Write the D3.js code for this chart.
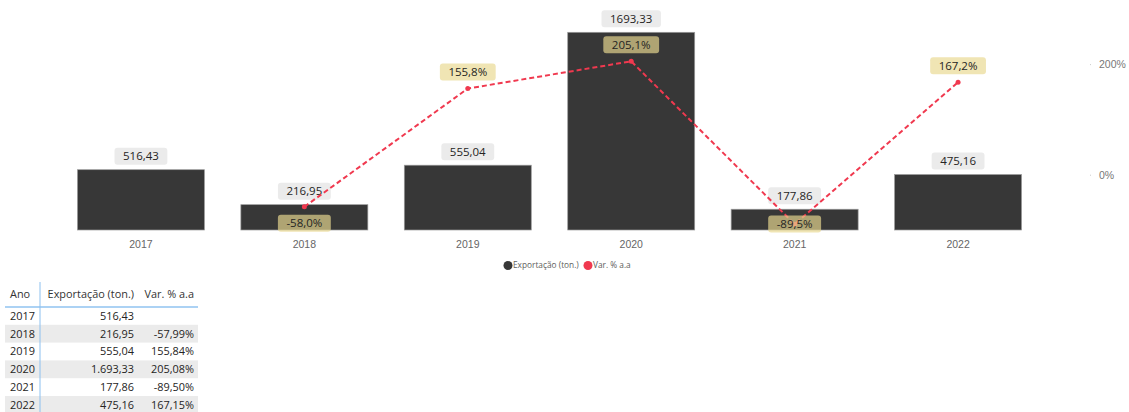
<!DOCTYPE html>
<html>
<head>
<meta charset="utf-8">
<script src="https://cdn.jsdelivr.net/npm/d3@7"></script>
<style>
  html, body { margin: 0; padding: 0; background: #fff; }
  svg { display: block; font-family: "Segoe UI", "Open Sans", "Noto Sans", sans-serif; }
</style>
</head>
<body>
<svg id="chart" width="1129" height="412"></svg>
<script>
// ---- data ----
const anos = ["2017", "2018", "2019", "2020", "2021", "2022"];
const exportacao = [516.43, 216.95, 555.04, 1693.33, 177.86, 475.16];
const variacao = [null, -57.99, 155.84, 205.08, -89.50, 167.15];
const pctTicks = [0, 200];
const seriesNames = ["Exportação (ton.)", "Var. % a.a"];
const tableHeaders = ["Ano", "Exportação (ton.)", "Var. % a.a"];

// ---- formatting ----
const loc = d3.formatLocale({decimal: ",", thousands: ".", grouping: [3], currency: ["R$", ""], minus: "-"});
const fBar = loc.format(".2f");
const fPct1 = v => loc.format(".1f")(v) + "%";
const fTab = loc.format(",.2f");
const fPct2 = v => loc.format(".2f")(v) + "%";

const svg = d3.select("#chart");
const barColor = "#373737";
const lineColor = "#f0394f";

// ---- scales ----
const x = d3.scaleBand().domain(anos).range([41, 1058]).paddingInner(0.223).paddingOuter(0.223);
const y = d3.scaleLinear().domain([0, 1970]).range([230, 0]);
const y2 = d3.scaleLinear().domain([-100, 316]).range([230, 0]);

// ---- right axis ----
const ax2 = svg.append("g").attr("transform", "translate(1090,0)")
  .call(d3.axisRight(y2).tickValues(pctTicks).tickSize(1).tickPadding(8).tickFormat(d => d + "%"));
ax2.select(".domain").remove();
ax2.selectAll(".tick line").attr("stroke", "#ccc");
ax2.selectAll("text").attr("fill", "#777").style("font-size", "10.5px");

// ---- bars ----
svg.append("g").selectAll("rect").data(anos).join("rect")
  .attr("x", d => x(d))
  .attr("y", (d, i) => y(exportacao[i]))
  .attr("width", x.bandwidth())
  .attr("height", (d, i) => y(0) - y(exportacao[i]))
  .attr("fill", barColor)
  .attr("stroke", "#9a9a9a").attr("stroke-width", 0.7);

// ---- x axis ----
const ax = svg.append("g").attr("transform", "translate(0,230)")
  .call(d3.axisBottom(x).tickSize(0).tickPadding(11));
ax.select(".domain").remove();
ax.selectAll("text").attr("fill", "#666").style("font-size", "10.5px");

// ---- label helper ----
function labelBox(g, cx, cy, text, fill, opacity) {
  const grp = g.append("g");
  const t = grp.append("text").attr("x", cx).attr("y", cy).attr("dy", "0.35em")
    .attr("text-anchor", "middle").attr("fill", "#252423").style("font-size", "11.5px").text(text);
  const w = t.node().getComputedTextLength() + 17;
  grp.insert("rect", "text").attr("x", cx - w / 2).attr("y", cy - 8.5).attr("width", w).attr("height", 17)
    .attr("rx", 3).attr("fill", fill).attr("fill-opacity", opacity);
}

// bar labels
const gBarLab = svg.append("g");
anos.forEach((a, i) => {
  const cx = x(a) + x.bandwidth() / 2;
  labelBox(gBarLab, cx, y(exportacao[i]) - 5 - 8.5, fBar(exportacao[i]), "#ebebeb", 1);
});

// ---- line ----
const pts = anos.map((a, i) => ({a, v: variacao[i]})).filter(d => d.v !== null);
const line = d3.line().x(d => x(d.a) + x.bandwidth() / 2).y(d => y2(d.v));
svg.append("path").datum(pts).attr("d", line).attr("fill", "none")
  .attr("stroke", lineColor).attr("stroke-width", 2).attr("stroke-dasharray", "5,3");
svg.append("g").selectAll("circle").data(pts).join("circle")
  .attr("cx", d => x(d.a) + x.bandwidth() / 2).attr("cy", d => y2(d.v)).attr("r", 2.5).attr("fill", lineColor);

// line labels
const gLineLab = svg.append("g");
pts.forEach(d => {
  const cx = x(d.a) + x.bandwidth() / 2;
  const py = y2(d.v);
  let cy;
  if (d.v >= 0) cy = py - 8 - 8.5;
  else cy = Math.min(py + 8 + 8.5, 224);
  labelBox(gLineLab, cx, cy, fPct1(d.v), "#e9d990", 0.68);
});

// ---- legend ----
const leg = svg.append("g").style("font-size", "8.3px");
const legItems = [{n: seriesNames[0], c: barColor, x: 508}, {n: seriesNames[1], c: lineColor, x: 588}];
legItems.forEach(it => {
  leg.append("circle").attr("cx", it.x).attr("cy", 265.5).attr("r", 4.5).attr("fill", it.c);
  leg.append("text").attr("x", it.x + 5).attr("y", 265.5).attr("dy", "0.35em").attr("fill", "#605e5c").text(it.n);
});

// ---- table ----
const tb = svg.append("g").style("font-size", "10.9px");
const rowH = 17.8, row0 = 307;
anos.forEach((a, i) => {
  if (i % 2 === 1) tb.append("rect").attr("x", 5).attr("y", row0 + i * rowH).attr("width", 193).attr("height", rowH).attr("fill", "#ebebeb");
});
tb.append("line").attr("x1", 5).attr("x2", 198).attr("y1", row0).attr("y2", row0).attr("stroke", "#5aa5ea").attr("stroke-width", 1.2);
tb.append("line").attr("x1", 40).attr("x2", 40).attr("y1", 282).attr("y2", 412).attr("stroke", "#8cc0ef").attr("stroke-width", 1);
const colX = [10, 134, 194], colAnchor = ["start", "end", "end"];
tableHeaders.forEach((h, j) => {
  tb.append("text").attr("x", colX[j]).attr("y", 294).attr("dy", "0.35em").attr("text-anchor", colAnchor[j]).attr("fill", "#333").text(h);
});
anos.forEach((a, i) => {
  const cy = row0 + i * rowH + rowH / 2;
  const vals = [a, fTab(exportacao[i]), variacao[i] === null ? "" : fPct2(variacao[i])];
  vals.forEach((v, j) => {
    tb.append("text").attr("x", colX[j]).attr("y", cy).attr("dy", "0.35em").attr("text-anchor", colAnchor[j]).attr("fill", "#252423").text(v);
  });
});
</script>
</body>
</html>
